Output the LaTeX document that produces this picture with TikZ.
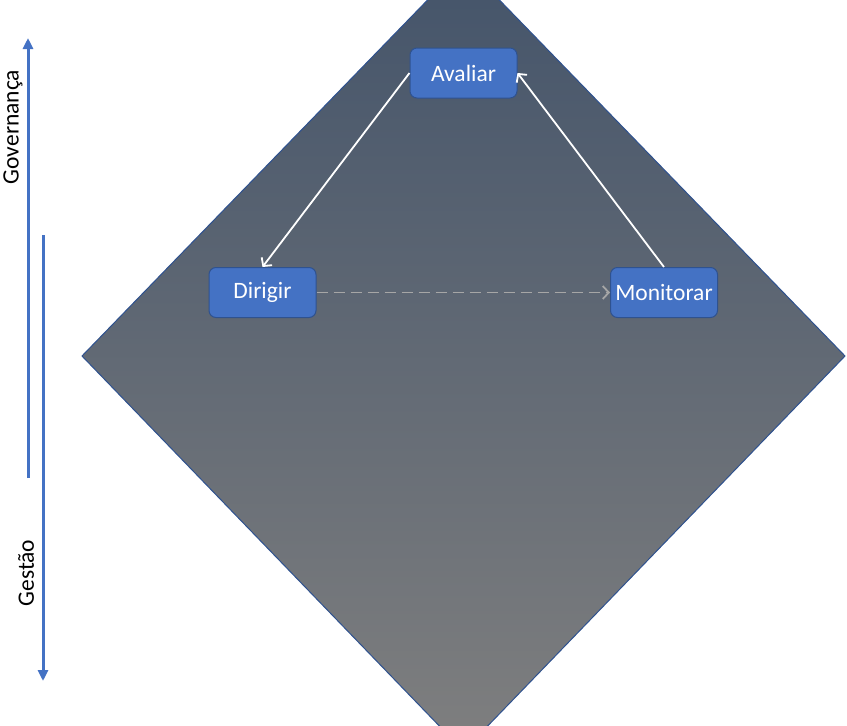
\documentclass[tikz,border=0pt]{standalone}
\usepackage{fontspec}
\setmainfont{Carlito}
\usetikzlibrary{arrows.meta}
\definecolor{accentblue}{HTML}{4472C4}
\definecolor{edgeblue}{HTML}{2F528F}
\definecolor{slatetop}{HTML}{44546A}
\definecolor{graybottom}{HTML}{7F7F7F}
\definecolor{dashgray}{HTML}{A6A6A6}
\tikzset{
  stagebox/.style={draw=edgeblue, line width=1pt, fill=accentblue, rounded corners=7pt,
    minimum width=107pt, minimum height=50pt, inner sep=0pt, text=white,
    font=\fontsize{23.5}{28}\selectfont},
  flow/.style={draw=white, line width=1.8pt, -{Straight Barb[length=6pt,width=13pt,line width=1.8pt]}},
  dashflow/.style={draw=dashgray, line width=1.8pt, dash pattern=on 11pt off 6pt,
    -{Straight Barb[length=6pt,width=13pt,line width=1.8pt]}},
  axisarrow/.style={draw=accentblue, line width=3pt, -{Triangle[length=11pt,width=10pt]}},
  axislabel/.style={rotate=90, inner sep=0pt, font=\fontsize{23.5}{28}\selectfont}
}
\begin{document}
\begin{tikzpicture}[x=1pt, y=-1pt]
  \useasboundingbox (0,0) rectangle (847,726);
  \begin{scope}
    \clip (0,0) rectangle (847,726);
    % shaded diamond background
    \path[top color=slatetop, bottom color=graybottom]
      (463.5,-37) -- (845,356) -- (463.5,751) -- (82,356) -- cycle;
    \draw[edgeblue, line width=1pt]
      (463.5,-37) -- (845,356) -- (463.5,751) -- (82,356) -- cycle;
  \end{scope}

  % cycle stages
  \node[stagebox] (avaliar) at (463.5,73) {Avaliar};
  \node[stagebox] (dirigir) at (262.5,292.5) {Dirigir};
  \node[stagebox] (monitorar) at (664,292.5) {Monitorar};

  \draw[flow] (avaliar.west) -- (dirigir.north);
  \draw[flow] (monitorar.north) -- (avaliar.east);
  \draw[dashflow] (dirigir.east) -- (monitorar.west);

  % side axes
  \coordinate (govstart) at (28,478);
  \coordinate (govend) at (28,38);
  \coordinate (gesstart) at (43,235);
  \coordinate (gesend) at (43,681);
  \draw[axisarrow] (govstart) -- (govend);
  \draw[axisarrow] (gesstart) -- (gesend);

  \node[axislabel] (governanca) at (13,127) {Governança};
  \node[axislabel] (gestao) at (26,573) {Gestão};
\end{tikzpicture}
\end{document}
